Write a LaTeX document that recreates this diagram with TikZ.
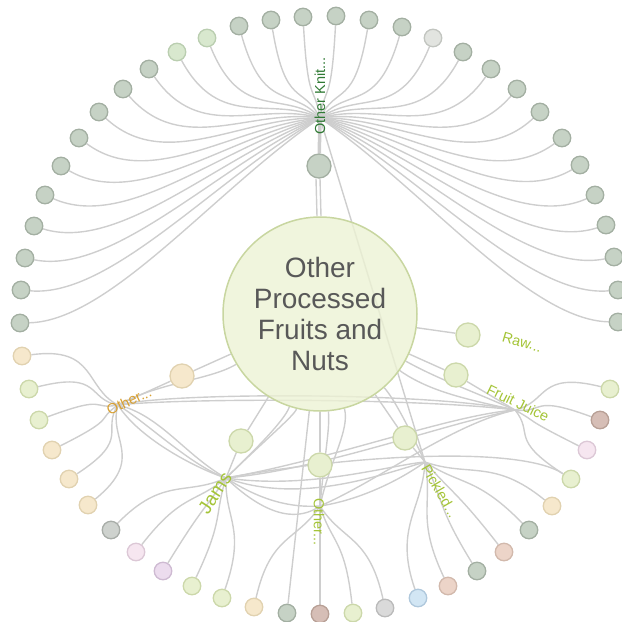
\documentclass[tikz,border=0pt]{standalone}
\usepackage{fontspec}
\setmainfont{Liberation Sans}
\usetikzlibrary{calc}
\pgfdeclarelayer{edges}
\pgfsetlayers{edges,main}

\definecolor{edgeC}{RGB}{206,206,206}
\definecolor{ggF}{RGB}{198,210,197}\definecolor{ggD}{RGB}{163,175,162}
\definecolor{pgF}{RGB}{216,232,206}\definecolor{pgD}{RGB}{186,206,176}
\definecolor{lwF}{RGB}{226,228,224}\definecolor{lwD}{RGB}{194,197,192}
\definecolor{lgF}{RGB}{232,240,208}\definecolor{lgD}{RGB}{204,216,170}
\definecolor{crF}{RGB}{246,232,204}\definecolor{crD}{RGB}{225,210,176}
\definecolor{gyF}{RGB}{206,210,206}\definecolor{gyD}{RGB}{168,173,168}
\definecolor{lyF}{RGB}{218,218,218}\definecolor{lyD}{RGB}{186,186,186}
\definecolor{pkF}{RGB}{246,230,240}\definecolor{pkD}{RGB}{220,200,214}
\definecolor{liF}{RGB}{236,220,238}\definecolor{liD}{RGB}{206,186,210}
\definecolor{brF}{RGB}{214,190,182}\definecolor{brD}{RGB}{184,160,150}
\definecolor{blF}{RGB}{210,230,244}\definecolor{blD}{RGB}{175,200,220}
\definecolor{peF}{RGB}{236,212,200}\definecolor{peD}{RGB}{210,185,172}
\definecolor{ctrF}{RGB}{236,242,212}\definecolor{ctrD}{RGB}{200,214,160}
\definecolor{txtC}{RGB}{88,88,88}
\definecolor{knitC}{RGB}{48,122,52}
\definecolor{orgC}{RGB}{217,160,48}
\definecolor{limeC}{RGB}{164,196,55}

\begin{document}
\begin{tikzpicture}[x=1pt, y=-1pt,
  leaf/.style={circle, draw, line width=1.3pt, minimum size=17.5pt, inner sep=0pt},
  hub/.style={leaf, minimum size=24pt},
  edge/.style={draw=edgeC, line width=1.4pt},
  lbl/.style={inner sep=0pt, font=\fontsize{14.5}{16}\selectfont},
  n-gg/.style={fill=ggF, draw=ggD},
  n-pg/.style={fill=pgF, draw=pgD},
  n-lw/.style={fill=lwF, draw=lwD},
  n-lg/.style={fill=lgF, draw=lgD},
  n-cr/.style={fill=crF, draw=crD},
  n-gy/.style={fill=gyF, draw=gyD},
  n-ly/.style={fill=lyF, draw=lyD},
  n-pk/.style={fill=pkF, draw=pkD},
  n-li/.style={fill=liF, draw=liD},
  n-br/.style={fill=brF, draw=brD},
  n-bl/.style={fill=blF, draw=blD},
  n-pe/.style={fill=peF, draw=peD},
]
\useasboundingbox (0,0) rectangle (622,622);
\coordinate (O) at (320,316);

% ---- centre ----------------------------------------------------------------
\node[circle, minimum size=194pt, inner sep=0pt, fill=ctrF, fill opacity=0.8,
      text opacity=1, draw=ctrD, line width=1.5pt, text=txtC, align=center,
      font=\fontsize{28}{31}\selectfont] (C) at (320,314)
  {Other\\Processed\\Fruits and\\Nuts};

% ---- bundle points and hubs ------------------------------------------------
\coordinate (K)  at (320,118);
\coordinate (O1) at (118,405);
\coordinate (J)  at (226,478);
\coordinate (O2) at (320,506);
\coordinate (P)  at (425,462);
\coordinate (F)  at (515,410);

\node[hub, n-gg] (hK)  at (319,166) {};
\node[hub, n-cr] (hO)  at (182,376) {};
\node[hub, n-lg] (hJ)  at (241,441) {};
\node[hub, n-lg] (hO2) at (320,465) {};
\node[hub, n-lg] (hP)  at (405,438) {};
\node[hub, n-lg] (hF)  at (456,375) {};
\node[hub, n-lg] (hR)  at (468,335) {};

% ---- labels ----------------------------------------------------------------
\node[lbl, text=knitC, rotate=90]  (tK)  at (320,96)  {Other Knit...};
\node[lbl, text=orgC, rotate=25]   (tO)  at (129,401) {Other...};
\node[lbl, text=limeC, rotate=57, font=\fontsize{19}{21}\selectfont] (tJ) at (215,493) {Jams};
\node[lbl, text=limeC, rotate=-90] (tO2) at (319,522) {Other...};
\node[lbl, text=limeC, rotate=-60] (tP)  at (440,491) {Pickled...};
\node[lbl, text=limeC, rotate=-26] (tF)  at (518,403) {Fruit Juice};
\node[lbl, text=limeC, rotate=-16] (tR)  at (522,342) {Raw...};

% ---- outer ring ------------------------------------------------------------
\foreach \x/\y/\s [count=\n] in {
  20/323/gg, 21/290/gg, 25/258/gg, 34/226/gg, 45/195/gg, 61/166/gg,
  79/138/gg, 99/112/gg, 123/89/gg, 149/69/gg, 177/52/pg, 207/38/pg,
  239/26/gg, 271/20/gg, 303/17/gg, 336/16/gg, 369/20/gg, 402/27/gg,
  433/38/lw, 463/52/gg, 491/69/gg, 517/89/gg, 540/112/gg, 562/138/gg,
  580/165/gg, 595/195/gg, 606/225/gg, 614/257/gg, 618/290/gg, 618/322/gg,
  22/356/cr, 29/389/lg, 39/420/lg, 52/450/cr, 69/479/cr, 88/505/cr,
  111/530/gy, 136/552/pk, 163/571/li, 192/586/lg, 222/598/lg, 254/607/cr,
  287/613/gg, 320/614/br, 353/613/lg, 385/608/ly, 418/598/bl, 448/586/pe,
  477/571/gg, 504/552/pe, 529/530/gg, 552/506/cr, 571/479/lg, 587/450/pk,
  600/420/br, 610/389/lg}
  \node[leaf, n-\s] (l\n) at (\x,\y) {};

\begin{pgfonlayer}{edges}
% leaves into their bundle
\foreach \n in {1,...,30}
  \draw[edge] (l\n) .. controls ($(l\n)!0.3!(O)$) and ($(K)!0.35!(l\n)$) .. (K);
\foreach \n/\b in {31/O1, 32/O1, 33/O1, 34/O1, 35/O1, 36/O1, 37/J, 38/J, 39/J,
                   40/J, 41/J, 42/O2, 44/O2, 45/O2, 46/O2, 47/P, 48/P, 49/P,
                   50/P, 51/P, 52/P, 53/F, 54/F, 55/F, 56/F}
  \draw[edge] (l\n) .. controls ($(l\n)!0.25!(O)$) and ($(\b)!0.35!(l\n)$) .. (\b);
\draw[edge] (l43) -- (C);

% hubs
\draw[edge, line width=3.5pt] (hK) -- (K);
\draw[edge] ([xshift=-3pt]hK.south) -- ([xshift=-3pt]C.north);
\draw[edge] ([xshift=1pt]hK.south) -- ([xshift=1pt]C.north);
\foreach \h/\b in {hO/O1, hJ/J, hO2/O2, hP/P, hF/F}
  \draw[edge] (\h) -- (\b);
\foreach \h in {hO, hJ, hO2, hP, hF, hR}
  \draw[edge] (\h) -- (C);
\draw[edge] (K) -- (P);

% cross links
\draw[edge] (O1) .. controls (160,382) and (210,380) .. (C);
\draw[edge] (O1) .. controls (180,398) and (420,398) .. (F);
\draw[edge] (O1) .. controls (170,392) and (430,392) .. (F);
\draw[edge] (O1) .. controls (150,425) and (190,465) .. (J);
\draw[edge] (O1) .. controls (140,440) and (200,470) .. (J);
\draw[edge] (O1) .. controls (160,415) and (185,455) .. (J);
\draw[edge] (J) .. controls (255,450) and (285,420) .. (C);
\draw[edge] (J) .. controls (265,440) and (295,415) .. (C);
\draw[edge] (J) .. controls (260,500) and (290,508) .. (O2);
\draw[edge] (J) .. controls (270,520) and (300,520) .. (O2);
\draw[edge] (J) .. controls (300,505) and (380,475) .. (P);
\draw[edge] (J) .. controls (310,490) and (390,465) .. (P);
\draw[edge] (J) .. controls (320,470) and (440,425) .. (F);
\draw[edge] (J) .. controls (330,460) and (450,415) .. (F);
\draw[edge] (J) .. controls (350,455) and (520,445) .. (l53);
\draw[edge] (O2) .. controls (330,460) and (350,430) .. (C);
\draw[edge] (O2) .. controls (325,450) and (330,430) .. (C);
\draw[edge] (O2) .. controls (360,500) and (400,480) .. (P);
\draw[edge] (O2) .. controls (380,480) and (450,425) .. (F);
\draw[edge] (P) .. controls (410,430) and (395,400) .. (C);
\draw[edge] (F) .. controls (470,400) and (430,392) .. (C);
\draw[edge] (F) .. controls (470,390) and (440,380) .. (C);
\end{pgfonlayer}
\end{tikzpicture}
\end{document}
